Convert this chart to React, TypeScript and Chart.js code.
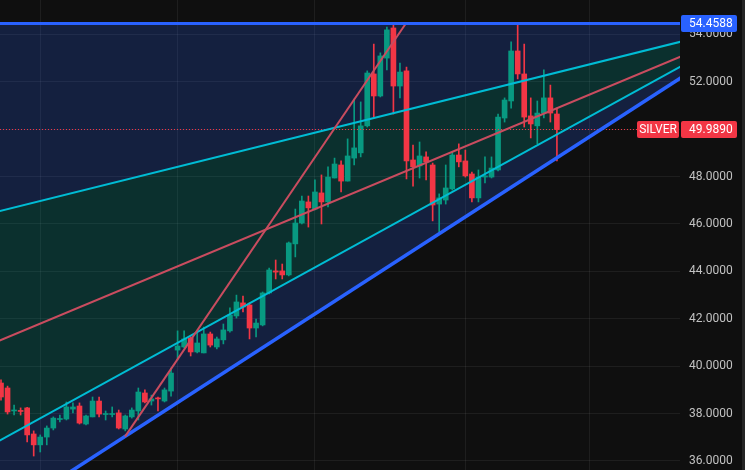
import React, { useEffect, useRef } from 'react';
import { Chart, registerables } from 'chart.js';

Chart.register(...registerables);

// ---- Data (daily candles, SILVER) ----
const opens = [
  39.29, 39.08, 38.11, 38.13, 38.24, 37.14, 36.68, 37.01, 37.39, 37.75,
  37.77, 38.19, 38.32, 37.56, 37.86, 38.53, 37.96, 37.96, 38.03, 37.35,
  37.86, 38.11, 38.87, 38.53, 38.66, 38.53, 38.95, 40.68, 40.81, 41.19,
  40.60, 40.56, 41.36, 40.81, 41.11, 41.49, 42.12, 42.67, 42.58, 41.61,
  41.74, 43.09, 44.02, 44.02, 43.85, 45.16, 46.04, 46.93, 46.63, 47.31,
  46.93, 47.94, 48.49, 47.81, 48.78, 49.00, 50.14, 52.33, 51.40, 53.00,
  54.27, 51.82, 52.46, 48.70, 48.45, 48.83, 48.49, 46.84, 47.01, 47.48,
  48.91, 48.66, 48.11, 47.10, 47.98, 47.98, 48.28, 50.47, 51.19, 53.30,
  52.33, 50.56, 50.14, 50.68, 51.32, 50.64,
];
const highs = [
  39.42, 39.16, 38.36, 38.24, 38.26, 37.27, 37.10, 37.48, 37.86, 37.94,
  38.49, 38.45, 38.45, 37.94, 38.70, 38.70, 38.11, 38.28, 38.15, 37.94,
  38.24, 39.08, 39.00, 38.78, 38.70, 39.08, 39.92, 41.49, 41.49, 41.23,
  41.40, 41.65, 41.44, 41.23, 41.78, 42.46, 43.00, 42.96, 42.67, 41.99,
  43.13, 44.14, 44.48, 44.31, 45.24, 46.63, 47.18, 47.18, 47.86, 48.07,
  48.41, 48.78, 48.66, 49.59, 51.27, 51.15, 52.46, 53.59, 53.22, 54.31,
  54.42, 52.79, 52.62, 49.33, 49.46, 49.04, 48.57, 47.27, 48.49, 49.04,
  49.38, 49.12, 48.19, 48.28, 48.83, 48.83, 50.64, 51.32, 53.68, 54.4588,
  53.59, 51.32, 51.19, 52.50, 51.86, 50.89,
];
const lows = [
  38.57, 37.98, 37.94, 37.94, 36.80, 36.21, 36.38, 36.68, 37.31, 37.65,
  37.73, 38.03, 37.56, 37.52, 37.86, 37.86, 37.73, 37.86, 37.35, 37.27,
  37.81, 37.73, 38.45, 38.36, 38.11, 38.49, 38.74, 40.26, 40.77, 40.43,
  40.56, 40.56, 40.81, 40.73, 40.94, 41.44, 42.03, 42.29, 41.15, 41.23,
  41.70, 43.05, 43.68, 43.68, 43.81, 44.61, 46.00, 45.87, 46.59, 46.00,
  46.72, 47.94, 47.35, 47.81, 48.49, 48.83, 50.09, 50.51, 51.36, 52.50,
  50.64, 51.32, 47.90, 47.60, 47.94, 47.86, 46.13, 45.66, 46.84, 47.43,
  48.41, 47.98, 46.93, 46.93, 47.73, 47.94, 48.24, 50.30, 50.89, 52.12,
  50.09, 49.63, 49.38, 50.47, 50.30, 48.66,
];
const closes = [
  38.70, 38.07, 38.15, 38.09, 37.10, 36.68, 37.01, 37.39, 37.81, 37.79,
  38.28, 38.28, 37.60, 37.90, 38.53, 37.98, 38.00, 38.00, 37.39, 37.90,
  38.15, 38.91, 38.49, 38.62, 38.62, 39.00, 39.71, 40.85, 41.15, 40.60,
  40.98, 41.36, 40.89, 41.15, 41.53, 42.16, 42.71, 42.50, 41.61, 41.82,
  43.09, 44.06, 43.97, 43.85, 45.20, 46.04, 46.97, 46.68, 47.35, 46.93,
  47.98, 48.53, 47.81, 48.87, 49.21, 50.14, 52.37, 51.40, 53.09, 54.19,
  51.82, 52.41, 48.66, 48.41, 48.87, 48.62, 46.80, 47.10, 47.52, 48.91,
  48.62, 48.03, 47.10, 47.98, 48.03, 48.36, 50.51, 51.23, 53.30, 52.33,
  50.51, 50.22, 50.68, 51.32, 50.68, 49.989,
];

const yTicks = [36, 38, 40, 42, 44, 46, 48, 50, 52, 54];
const monthGridIndex = [6, 27, 48, 71, 90];
const symbolName = 'SILVER';
const lastPrice = 49.989;
const highLevel = 54.4588;

// Drawing anchors in (candle index, price)
const fanUpperCyan = [[0, 46.56], [100, 53.42]];
const fanMidRed = [[0, 41.11], [100, 52.61]];
const fanLowerCyan = [[0, 36.89], [100, 52.05]];
const fanLowerBlue = [[0, 33.66], [100, 51.46]];
const steepRed = [[18.96, 37.03], [61.9, 54.4588]];

const X_MIN = -0.153;
const X_MAX = 103.82;
const Y_MIN = 35.62;
const Y_MAX = 55.45;

const UP = '#089981';
const DOWN = '#f23645';
const BG = '#0f0f0f';
const GRID = 'rgba(242,242,242,0.07)';
const NAVY = 'rgba(41,98,255,0.2)';
const TEAL = 'rgba(0,170,160,0.22)';
const CYAN = '#00bcd4';
const RED_LINE = '#c94c5f';
const BLUE = '#2962ff';
const FONT = 'Roboto, "Liberation Sans", Arial, sans-serif';

const zeroPad = (s: any) => {
  s.paddingTop = 0;
  s.paddingBottom = 0;
  s.paddingLeft = 0;
  s.paddingRight = 0;
};

export default function App() {
  const ref = useRef<HTMLCanvasElement>(null);

  useEffect(() => {
    const canvas = ref.current;
    if (!canvas) return;
    const idx = opens.map((_, i) => i);
    const colors = idx.map((i) => (closes[i] >= opens[i] ? UP : DOWN));

    const overlay = {
      id: 'overlay',
      beforeDraw(chart: any) {
        const { ctx, width, height } = chart;
        ctx.save();
        ctx.fillStyle = BG;
        ctx.fillRect(0, 0, width, height);
        ctx.restore();
      },
      beforeDatasetsDraw(chart: any) {
        const { ctx, chartArea: a, scales } = chart;
        const xs = scales.x, ys = scales.y;
        const L = a.left - 20, R = a.right + 20;
        const seg = (l: number[][]) => {
          const x0 = xs.getPixelForValue(l[0][0]), y0 = ys.getPixelForValue(l[0][1]);
          const x1 = xs.getPixelForValue(l[1][0]), y1 = ys.getPixelForValue(l[1][1]);
          const m = (y1 - y0) / (x1 - x0);
          return [[L, y0 + m * (L - x0)], [R, y0 + m * (R - x0)]];
        };
        const yTop = ys.getPixelForValue(highLevel);
        const top = [[L, yTop], [R, yTop]];
        const cu = seg(fanUpperCyan), cl = seg(fanLowerCyan), bl = seg(fanLowerBlue);
        ctx.save();
        ctx.beginPath();
        ctx.rect(a.left, a.top, a.right - a.left, a.bottom - a.top);
        ctx.clip();
        const poly = (p: number[][], q: number[][], color: string) => {
          ctx.beginPath();
          ctx.moveTo(p[0][0], p[0][1]);
          ctx.lineTo(p[1][0], p[1][1]);
          ctx.lineTo(q[1][0], q[1][1]);
          ctx.lineTo(q[0][0], q[0][1]);
          ctx.closePath();
          ctx.fillStyle = color;
          ctx.fill();
        };
        poly(top, cu, NAVY);
        poly(cu, cl, TEAL);
        poly(cl, bl, NAVY);
        ctx.restore();
      },
      afterDatasetsDraw(chart: any) {
        const { ctx, chartArea: a, scales } = chart;
        const xs = scales.x, ys = scales.y;
        const L = a.left - 20, R = a.right + 20;
        const seg = (l: number[][]) => {
          const x0 = xs.getPixelForValue(l[0][0]), y0 = ys.getPixelForValue(l[0][1]);
          const x1 = xs.getPixelForValue(l[1][0]), y1 = ys.getPixelForValue(l[1][1]);
          const m = (y1 - y0) / (x1 - x0);
          return [[L, y0 + m * (L - x0)], [R, y0 + m * (R - x0)]];
        };
        const stroke = (p: number[][], color: string, w: number) => {
          ctx.beginPath();
          ctx.moveTo(p[0][0], p[0][1]);
          ctx.lineTo(p[1][0], p[1][1]);
          ctx.strokeStyle = color;
          ctx.lineWidth = w;
          ctx.stroke();
        };
        ctx.save();
        ctx.beginPath();
        ctx.rect(a.left, a.top, a.right - a.left, a.bottom - a.top);
        ctx.clip();
        const yp = ys.getPixelForValue(lastPrice);
        ctx.setLineDash([1, 2]);
        stroke([[a.left, Math.round(yp) + 0.5], [a.right, Math.round(yp) + 0.5]], DOWN, 1);
        ctx.setLineDash([]);
        const yTop = ys.getPixelForValue(highLevel);
        stroke(seg(fanUpperCyan), CYAN, 2);
        stroke(seg(fanMidRed), RED_LINE, 2);
        stroke(seg(fanLowerCyan), CYAN, 2);
        stroke(seg(fanLowerBlue), BLUE, 3.5);
        stroke(
          [
            [xs.getPixelForValue(steepRed[0][0]), ys.getPixelForValue(steepRed[0][1])],
            [xs.getPixelForValue(steepRed[1][0]), ys.getPixelForValue(steepRed[1][1])],
          ],
          RED_LINE,
          2
        );
        stroke([[L, yTop], [R, yTop]], BLUE, 3);
        ctx.restore();
      },
      afterDraw(chart: any) {
        const { ctx, chartArea: a, scales, width, height } = chart;
        const ys = scales.y;
        const box = (x0: number, x1: number, yc: number, color: string, text: string, center: boolean) => {
          const h = 17;
          ctx.fillStyle = color;
          ctx.beginPath();
          if ((ctx as any).roundRect) (ctx as any).roundRect(x0, Math.round(yc - h / 2), x1 - x0, h, 2);
          else ctx.rect(x0, Math.round(yc - h / 2), x1 - x0, h);
          ctx.fill();
          ctx.fillStyle = '#ffffff';
          ctx.font = `12px ${FONT}`;
          ctx.textBaseline = 'middle';
          ctx.textAlign = center ? 'center' : 'left';
          ctx.fillText(text, center ? (x0 + x1) / 2 : a.right + 9, Math.round(yc) + 1);
        };
        ctx.save();
        box(a.right + 1, a.right + 57, ys.getPixelForValue(highLevel), BLUE, highLevel.toFixed(4), false);
        const yp = ys.getPixelForValue(lastPrice);
        box(a.right + 1, a.right + 57, yp, DOWN, lastPrice.toFixed(4), false);
        box(a.right - 43, a.right - 1, yp, DOWN, symbolName, true);
        ctx.fillStyle = '#242424';
        ctx.fillRect(width - 3, 0, 3, height);
        ctx.restore();
      },
    };

    const chart = new Chart(canvas, {
      type: 'bar',
      data: {
        datasets: [
          {
            label: 'wicks',
            data: idx.map((i) => ({ x: i, y: [lows[i], highs[i]] })) as any,
            backgroundColor: colors,
            barThickness: 1,
            grouped: false,
            minBarLength: 1,
            borderWidth: 0,
            order: 2,
          } as any,
          {
            label: 'bodies',
            data: idx.map((i) => ({ x: i, y: [opens[i], closes[i]] })) as any,
            backgroundColor: colors,
            barThickness: 5,
            grouped: false,
            minBarLength: 1,
            borderWidth: 0,
            order: 1,
          } as any,
        ],
      },
      options: {
        responsive: false,
        animation: false,
        devicePixelRatio: 1,
        layout: { padding: 0, autoPadding: false } as any,
        plugins: { legend: { display: false }, tooltip: { enabled: false } },
        scales: {
          x: {
            type: 'linear',
            min: X_MIN,
            max: X_MAX,
            offset: false,
            afterBuildTicks: (s: any) => {
              s.ticks = monthGridIndex.map((v) => ({ value: v }));
            },
            afterFit: (s: any) => {
              s.height = 0;
              zeroPad(s);
            },
            ticks: { display: false },
            grid: { color: GRID, drawTicks: false, offset: false },
            border: { display: false },
          },
          y: {
            type: 'linear',
            position: 'right',
            min: Y_MIN,
            max: Y_MAX,
            afterBuildTicks: (s: any) => {
              s.ticks = yTicks.map((v) => ({ value: v }));
            },
            afterFit: (s: any) => {
              s.width = 65;
              zeroPad(s);
            },
            ticks: {
              color: '#c2c2c2',
              padding: 9,
              font: { family: FONT, size: 12 },
              callback: (v: any) => Number(v).toFixed(4),
            },
            grid: { color: GRID, drawTicks: false, offset: false },
            border: { display: false },
          },
        } as any,
      },
      plugins: [overlay],
    });
    return () => chart.destroy();
  }, []);

  return (
    <div style={{ position: 'fixed', left: 0, top: 0, width: 745, height: 470, background: BG }}>
      <canvas ref={ref} width={745} height={470} style={{ display: 'block', width: 745, height: 470 }} />
    </div>
  );
}
